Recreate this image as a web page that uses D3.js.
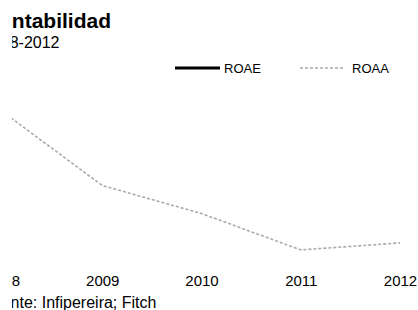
<!DOCTYPE html>
<html>
<head>
<meta charset="utf-8">
<script src="https://cdn.jsdelivr.net/npm/d3@7"></script>
<style>
  body { margin: 0; background: #fff; }
  svg { display: block; font-family: "Liberation Sans", Arial, sans-serif; }
</style>
</head>
<body>
<svg id="chart"></svg>
<script>
const years = ["2008", "2009", "2010", "2011", "2012"];
const roae = [14.5, 9.8, 7.6, 4.2, 4.9];
const roaa = [2.4, 1.35, 0.95, 0.43, 0.53];
const seriesNames = ["ROAE", "ROAA"];

function drawChart() {
  const width = 418, height = 310;

  const svg = d3.select("#chart")
                .attr("width", width)
                .attr("height", height);

  // the picture is cut on the left side
  svg.append("clipPath").attr("id", "cut")
     .append("rect").attr("x", 12).attr("y", 0).attr("width", width).attr("height", height);
  svg.append("clipPath").attr("id", "plot")
     .append("rect").attr("x", 12).attr("y", 80).attr("width", width).attr("height", 190);

  const root = svg.append("g").attr("clip-path", "url(#cut)");

  const x = d3.scalePoint().domain(years).range([3, 400]);
  const y = d3.scaleLinear().domain([0, 3]).range([280, 70]);

  root.append("text")
      .attr("x", -15).attr("y", 28)
      .style("font-size", "21px").style("font-weight", "bold")
      .text("Rentabilidad");

  root.append("text")
      .attr("x", -17).attr("y", 48)
      .style("font-size", "16px")
      .text("2008-2012");

  const line = d3.line()
    .x((d, i) => x(years[i]))
    .y(d => y(d));

  const plot = root.append("g").attr("clip-path", "url(#plot)");

  plot.append("path")
      .datum(roae)
      .attr("fill", "none")
      .attr("stroke", "#000")
      .attr("stroke-width", 3)
      .attr("d", line);

  plot.append("path")
      .datum(roaa)
      .attr("fill", "none")
      .attr("stroke", "#aaa")
      .attr("stroke-width", 1.6)
      .attr("stroke-dasharray", "3,2")
      .attr("d", line);

  // year labels
  root.append("g")
      .attr("transform", "translate(0, 286)")
      .call(d3.axisBottom(x).tickSize(0).tickPadding(0))
      .call(g => g.select(".domain").remove())
      .selectAll("text")
      .attr("dy", 0)
      .style("font-size", "15px")
      .style("font-family", "'Liberation Sans', Arial, sans-serif")
      .attr("fill", "#000");

  // legend
  const legend = root.append("g").attr("transform", "translate(175, 68)");
  seriesNames.forEach((name, i) => {
    const row = legend.append("g").attr("transform", `translate(${i * 125}, 0)`);
    row.append("line")
       .attr("x1", 0).attr("x2", 45)
       .attr("stroke", i ? "#aaa" : "#000")
       .attr("stroke-width", i ? 1.5 : 3)
       .attr("stroke-dasharray", i ? "3,2" : null);
    row.append("text")
       .attr("x", i ? 52 : 49).attr("y", 5)
       .style("font-size", "13px")
       .text(name);
  });

  root.append("text")
      .attr("x", -17).attr("y", 308)
      .style("font-size", "16px")
      .text("Fuente: Infipereira; Fitch");
}

drawChart();
</script>
</body>
</html>
